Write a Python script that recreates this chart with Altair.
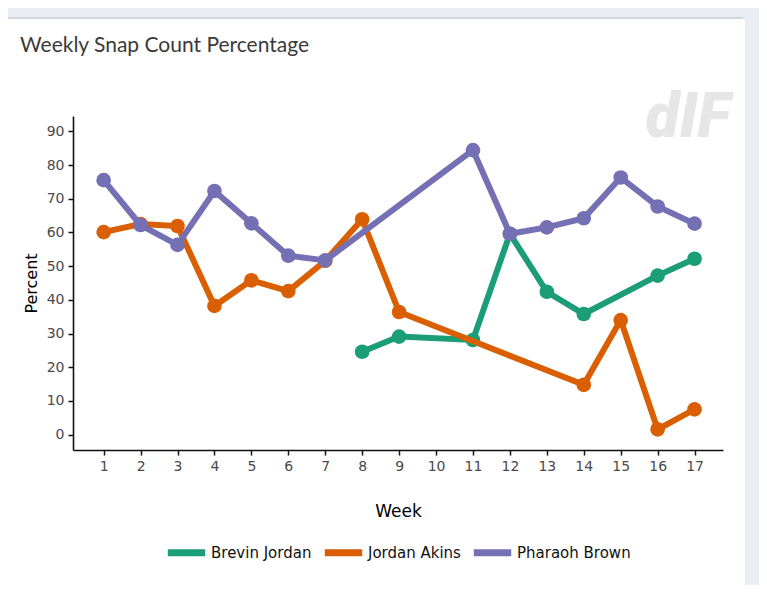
import altair as alt
import pandas as pd

title_text = "Weekly Snap Count Percentage"
series = ["Brevin Jordan", "Jordan Akins", "Pharaoh Brown"]
colors = ["#1b9e77", "#d95f02", "#7570b3"]

brevin_weeks = [8, 9, 11, 12, 13, 14, 16, 17]
brevin_vals = [24.6, 29.1, 28.1, 59.6, 42.4, 35.8, 47.2, 52.2]

akins_weeks = [1, 2, 3, 4, 5, 6, 7, 8, 9, 14, 15, 16, 17]
akins_vals = [60.1, 62.5, 61.9, 38.2, 45.8, 42.6, 51.6, 63.9, 36.4, 14.8, 34.0, 1.6, 7.5]

brown_weeks = [1, 2, 3, 4, 5, 6, 7, 11, 12, 13, 14, 15, 16, 17]
brown_vals = [75.5, 62.2, 56.3, 72.3, 62.7, 53.1, 51.7, 84.4, 59.6, 61.5, 64.2, 76.3, 67.7, 62.6]

week_ticks = list(range(1, 18))
pct_ticks = list(range(0, 100, 10))

rows = []
for name, wk, vals in [(series[0], brevin_weeks, brevin_vals),
                       (series[1], akins_weeks, akins_vals),
                       (series[2], brown_weeks, brown_vals)]:
    for w, v in zip(wk, vals):
        rows.append({"Player": name, "Week": w, "Percent": v})
df = pd.DataFrame(rows)

one = pd.DataFrame({"k": [0]})

color_scale = alt.Scale(domain=series, range=colors)
x_enc = alt.X("Week:Q",
              scale=alt.Scale(domain=[0.17, 17.77], nice=False, zero=False),
              axis=alt.Axis(values=week_ticks, format="d", title="Week", grid=False,
                            titlePadding=30, zindex=1))
y_enc = alt.Y("Percent:Q",
              scale=alt.Scale(domain=[-4.54, 94.54], nice=False, zero=False),
              axis=alt.Axis(values=pct_ticks, title="Percent", grid=False,
                            titlePadding=7, zindex=1))

# decorations: white card, top border, title, watermark
card = alt.Chart(one).mark_rect(color="white", cornerRadius=4).encode(
    x=alt.value(-70), x2=alt.value(672), y=alt.value(-98), y2=alt.value(480))
border = alt.Chart(one).mark_rect(color="#d3d8e0").encode(
    x=alt.value(-68), x2=alt.value(670), y=alt.value(-99), y2=alt.value(-97))
title = alt.Chart(one).mark_text(
    text=title_text, align="left", baseline="alphabetic", font="Lato",
    fontSize=21, color="#3a3a3a").encode(x=alt.value(-53), y=alt.value(-64))
logo = alt.Chart(one).mark_text(
    text="dIF", align="center", baseline="alphabetic", font="Roboto",
    fontWeight=900, fontStyle="italic", fontSize=62, color="#e6e6e6").encode(
    x=alt.value(615), y=alt.value(21))

layers = [card, border, title, logo]
for i, name in enumerate(series):
    base = alt.Chart(df).transform_filter(alt.datum.Player == name)
    legend = alt.Legend(title=None, orient="none", direction="horizontal",
                        legendX=91, legendY=414, symbolType="stroke",
                        symbolSize=1400, symbolStrokeWidth=7,
                        labelFont="DejaVu Sans", labelFontSize=15,
                        labelColor="#111111", columnPadding=-2,
                        labelOffset=2) if i == 0 else None
    line = base.mark_line(strokeWidth=6).encode(
        x=x_enc, y=y_enc,
        color=alt.Color("Player:N", scale=color_scale, legend=legend))
    pts = base.mark_point(filled=True, size=215, opacity=1).encode(
        x=x_enc, y=y_enc,
        color=alt.Color("Player:N", scale=color_scale, legend=None))
    layers += [line, pts]

chart = alt.layer(*layers).properties(
    width=650, height=334,
    autosize=alt.AutoSizeParams(type="none"),
    padding={"left": 65, "top": 108, "right": 36, "bottom": 135},
    background="#eaedf2",
).configure_view(stroke=None).configure_axis(
    domainColor="#111111", domainWidth=1.6, tickColor="#111111", tickWidth=1.5,
    tickSize=5, labelFont="DejaVu Sans", labelFontSize=14, labelColor="#4a4a4a",
    labelPadding=4, titleFont="DejaVu Sans", titleFontWeight="normal",
    titleColor="#000000"
).configure_axisY(titleFontSize=16).configure_axisX(titleFontSize=17)

chart.save("out.html", embed_options={"renderer": "svg", "actions": False})
